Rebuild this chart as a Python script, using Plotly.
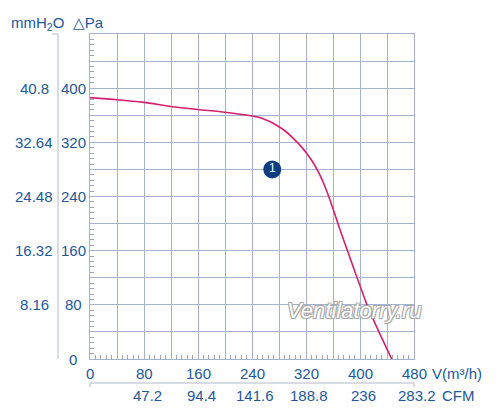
import plotly.graph_objects as go

# fan curve: airflow m3/h vs static pressure Pa
flow = [0, 40, 80, 120, 160, 200, 240, 250, 260, 270, 280, 290, 300, 310, 320, 330, 340, 350,
        360, 370, 380, 395, 410, 428, 447]
pressure = [386, 383, 379, 373, 368.5, 364.5, 359, 357, 353.5, 349, 343, 336, 327, 317, 305, 291, 273, 250,
            222, 192, 164, 122, 81, 40, 0]

flow_ticks = [0, 80, 160, 240, 320, 400, 480]
cfm_ticks = ["", "47.2", "94.4", "141.6", "188.8", "236", "283.2"]
pa_ticks = [0, 80, 160, 240, 320, 400]
mmh2o_ticks = ["", "8.16", "16.32", "24.48", "32.64", "40.8"]

label_x, label_y = [270], [280]

txt = "#23579a"
grid = "#a3b3cf"
fnt = dict(family="Liberation Sans, Arial, sans-serif", size=15, color=txt)

fig = go.Figure()
fig.add_trace(go.Scatter(x=flow, y=pressure, mode="lines", line=dict(color="#d4206e", width=1.6,
                                                                      shape="spline", smoothing=0.7),
                         hoverinfo="skip"))
fig.add_trace(go.Scatter(x=label_x, y=label_y, mode="markers+text", text=["1"],
                         textposition="middle center",
                         textfont=dict(family="Liberation Sans, Arial", size=12, color="white"),
                         marker=dict(size=18, color="#0e3d84"), hoverinfo="skip"))

ann = []
for v in flow_ticks:
    ann.append(dict(x=v, y=0, xref="x", yref="paper", yshift=-14, text=str(v),
                    showarrow=False, font=fnt, xanchor="center", yanchor="middle"))
for v, c in zip(flow_ticks, cfm_ticks):
    if c:
        ann.append(dict(x=v, y=0, xref="x", yref="paper", yshift=-36, xshift=3, text=c,
                        showarrow=False, font=fnt, xanchor="center", yanchor="middle"))
for v, m in zip(pa_ticks, mmh2o_ticks):
    ann.append(dict(x=0, y=v, xref="paper", yref="y", xshift=-17, text=str(v),
                    showarrow=False, font=fnt, xanchor="center", yanchor="middle"))
    if m:
        ann.append(dict(x=0, y=v, xref="paper", yref="y", xshift=-56, text=m,
                        showarrow=False, font=fnt, xanchor="center", yanchor="middle"))
ann.append(dict(x=1, y=0, xref="paper", yref="paper", xshift=16, yshift=-14, text="V(m³/h)",
                showarrow=False, font=fnt, xanchor="left", yanchor="middle"))
ann.append(dict(x=1, y=0, xref="paper", yref="paper", xshift=26, yshift=-36, text="CFM",
                showarrow=False, font=fnt, xanchor="left", yanchor="middle"))
ann.append(dict(x=0, y=1, xref="paper", yref="paper", xshift=-81, yshift=11,
                text="mmH<sub>2</sub>O  △Pa", showarrow=False, font=fnt,
                xanchor="left", yanchor="middle"))
ann.append(dict(x=392, y=72, xref="x", yref="y", text="<i>Ventilatorry.ru</i>", showarrow=False,
                font=dict(family="Liberation Sans, Arial", size=22, color="white",
                          shadow="-1px -1px 0 #a8a8a8, 1px -1px 0 #a8a8a8, -1px 1px 0 #a8a8a8, 1px 1px 0 #a8a8a8"),
                xanchor="center", yanchor="middle"))

shapes = [
    # separator between the two pressure scales
    dict(type="line", xref="paper", yref="paper", xsizemode="pixel", xanchor=0, x0=-32, x1=-32,
         y0=0, y1=1, line=dict(color="#b0b8c8", width=1)),
    dict(type="line", xref="paper", yref="paper", xsizemode="pixel", xanchor=0, x0=-38, x1=-32,
         y0=1, y1=1, line=dict(color="#b0b8c8", width=1)),
    # rule between the m3/h and CFM scales
    dict(type="line", xref="paper", yref="paper", ysizemode="pixel", yanchor=0, y0=-24, y1=-24,
         x0=0, x1=1, line=dict(color="#b0b8c8", width=1)),
    dict(type="line", xref="paper", yref="paper", ysizemode="pixel", yanchor=0, y0=-24, y1=-28,
         x0=0, x1=0, line=dict(color="#b0b8c8", width=1)),
    dict(type="line", xref="paper", yref="paper", ysizemode="pixel", yanchor=0, y0=-24, y1=-28,
         x0=1, x1=1, line=dict(color="#b0b8c8", width=1)),
]

axis = dict(showgrid=True, gridcolor=grid, gridwidth=1, dtick=40, tick0=0, showticklabels=False,
            ticks="", zeroline=False, showline=True, linecolor=grid, mirror=True,
            minor=dict(dtick=8, ticks="inside", ticklen=4, tickcolor="#9aa6bb", showgrid=False))

# page body has an 8px margin, so the plot box is pulled up/left to land where the reference has it
fig.update_layout(
    width=500, height=419, margin=dict(l=82, r=94, t=26, b=68),
    paper_bgcolor="white", plot_bgcolor="white", showlegend=False,
    xaxis=dict(axis, range=[0, 480]),
    yaxis=dict(axis, range=[0, 480]),
    annotations=ann, shapes=shapes,
)
fig.write_html("out.html")
